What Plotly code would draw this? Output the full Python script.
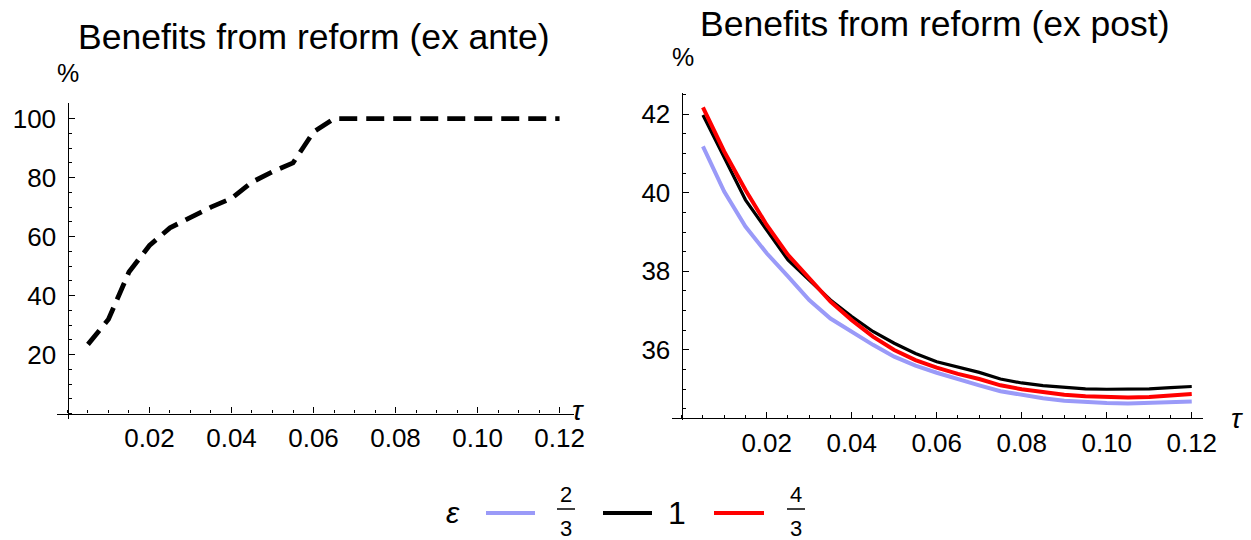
import plotly.graph_objects as go

W, H = 1251, 540

# ---------------- data ----------------
tau = [0.005, 0.010, 0.015, 0.020, 0.025, 0.030, 0.035, 0.040, 0.045, 0.050,
       0.055, 0.060, 0.065, 0.070, 0.075, 0.080, 0.085, 0.090, 0.095, 0.100,
       0.105, 0.110, 0.115, 0.120]

ex_ante = [23.5, 32.0, 48.0, 57.0, 63.0, 66.5, 70.0, 73.0, 78.5, 82.0,
           85.0, 95.5, 100.0, 100.0, 100.0, 100.0, 100.0, 100.0, 100.0, 100.0,
           100.0, 100.0, 100.0, 100.0]

post_eps_2_3 = [41.18, 40.03, 39.14, 38.46, 37.87, 37.27, 36.80, 36.47, 36.13, 35.83,
                35.60, 35.42, 35.25, 35.10, 34.95, 34.85, 34.77, 34.71, 34.67, 34.65,
                34.64, 34.65, 34.67, 34.69]
post_eps_1 = [41.98, 40.92, 39.82, 39.05, 38.29, 37.78, 37.27, 36.85, 36.47, 36.17,
              35.91, 35.70, 35.56, 35.43, 35.26, 35.16, 35.09, 35.04, 35.01, 35.00,
              35.00, 35.01, 35.04, 35.07]
post_eps_4_3 = [42.17, 41.05, 40.07, 39.18, 38.42, 37.82, 37.23, 36.76, 36.34, 36.00,
                35.74, 35.55, 35.39, 35.26, 35.10, 35.00, 34.92, 34.86, 34.82, 34.80,
                34.79, 34.80, 34.84, 34.88]

x_tickvals = [0.02, 0.04, 0.06, 0.08, 0.10, 0.12]
x_ticktext = ["0.02", "0.04", "0.06", "0.08", "0.10", "0.12"]
yl_tickvals = [20, 40, 60, 80, 100]
yr_tickvals = [36, 38, 40, 42]

series_names = ["2/3", "1", "4/3"]
series_colors = ["#9a9af8", "#000000", "#ff0000"]

FONT = "Liberation Sans"

def fx(px):
    return px / W

def fy(py):
    return 1 - py / H

fig = go.Figure()

fig.add_trace(go.Scatter(x=tau, y=ex_ante, mode="lines", xaxis="x", yaxis="y",
                         line=dict(color="black", width=4.8, dash="18px,9px"),
                         showlegend=False, hoverinfo="skip"))

for vals, col, w in [(post_eps_2_3, series_colors[0], 4),
                     (post_eps_1, series_colors[1], 3.2),
                     (post_eps_4_3, series_colors[2], 4)]:
    fig.add_trace(go.Scatter(x=tau, y=vals, mode="lines", xaxis="x2", yaxis="y2",
                             line=dict(color=col, width=w),
                             showlegend=False, hoverinfo="skip"))

tickfont = dict(family=FONT, size=26, color="black")

def xaxis_cfg(rng, dom, pos):
    return dict(range=rng, domain=dom, anchor="free", position=pos,
                showline=True, linecolor="black", linewidth=1.4,
                showgrid=False, zeroline=False,
                tickmode="array", tickvals=x_tickvals, ticktext=x_ticktext,
                ticks="inside", ticklen=6, tickwidth=1.3, tickcolor="black",
                ticklabelstandoff=1,
                minor=dict(tick0=0, dtick=0.005, ticks="inside", ticklen=3.5,
                           tickwidth=1.2, tickcolor="black"),
                tickfont=tickfont, fixedrange=True)

def yaxis_cfg(rng, dom, pos, vals, mdtick, mtick0):
    return dict(range=rng, domain=dom, anchor="free", position=pos,
                showline=True, linecolor="black", linewidth=1.4,
                showgrid=False, zeroline=False,
                tickmode="array", tickvals=vals, ticktext=[str(v) for v in vals],
                ticks="inside", ticklen=6, tickwidth=1.3, tickcolor="black",
                ticklabelstandoff=6,
                minor=dict(tick0=mtick0, dtick=mdtick, ticks="inside", ticklen=3.5,
                           tickwidth=1.2, tickcolor="black"),
                tickfont=tickfont, fixedrange=True)

# left panel geometry (pixels in the target picture)
L_x0, L_x1 = 56.8, 573.9
L_ytop, L_ybot = 103.3, 419.3
L_yaxis_px = 67.5
L_xaxis_px = 413.6
# right panel
R_x0, R_x1 = 671.5, 1202.8
R_ytop, R_ybot = 93.3, 420.3
R_yaxis_px = 681.7
R_xaxis_px = 418.3

fig.update_layout(
    width=W, height=H, autosize=False,
    margin=dict(l=0, r=0, t=0, b=0, autoexpand=False),
    paper_bgcolor="white", plot_bgcolor="rgba(0,0,0,0)",
    showlegend=False,
    xaxis=xaxis_cfg([-0.0026, 0.1235], [fx(L_x0), fx(L_x1)], fy(L_xaxis_px)),
    yaxis=yaxis_cfg([-1.9, 105.2], [fy(L_ybot), fy(L_ytop)], fx(L_yaxis_px), yl_tickvals, 5, 0),
    xaxis2=xaxis_cfg([-0.0024, 0.1226], [fx(R_x0), fx(R_x1)], fy(R_xaxis_px)),
    yaxis2=yaxis_cfg([34.21, 42.53], [fy(R_ybot), fy(R_ytop)], fx(R_yaxis_px), yr_tickvals, 0.5, 34),
)

ann = []
def add_text(x, y, text, size, italic=False, xanchor="center"):
    ann.append(dict(x=fx(x), y=fy(y), xref="paper", yref="paper", text=text,
                    showarrow=False, xanchor=xanchor, yanchor="middle",
                    font=dict(family=FONT, size=size, color="black",
                              style="italic" if italic else "normal")))

add_text(314, 37, "Benefits from reform (ex ante)", 35.5)
add_text(935, 24, "Benefits from reform (ex post)", 35.5)
add_text(68, 73, "%", 25)
add_text(683, 57, "%", 25)
add_text(578, 410, "τ", 28, italic=True)
add_text(1237, 418, "τ", 28, italic=True)

# legend
add_text(453, 512, "ε", 30, italic=True)
add_text(566, 494, "2", 22)
add_text(566, 528, "3", 22)
add_text(677, 513, "1", 32)
add_text(796, 494, "4", 22)
add_text(796, 528, "3", 22)
fig.update_layout(annotations=ann)

shapes = []
def hline(x0, x1, y, color, width):
    shapes.append(dict(type="line", xref="paper", yref="paper",
                       x0=fx(x0), x1=fx(x1), y0=fy(y), y1=fy(y),
                       line=dict(color=color, width=width)))

hline(486, 535, 513, series_colors[0], 4)
hline(603, 652, 513, series_colors[1], 4)
hline(714, 764, 513, series_colors[2], 4)
hline(557, 575, 509, "black", 1.5)
hline(787, 805, 509, "black", 1.5)
fig.update_layout(shapes=shapes)

fig.write_html(
    "out.html",
    config={"responsive": False, "displayModeBar": False},
    post_script="document.documentElement.style.overflow='hidden';"
                "document.body.style.margin='0';document.body.style.overflow='hidden';",
)
